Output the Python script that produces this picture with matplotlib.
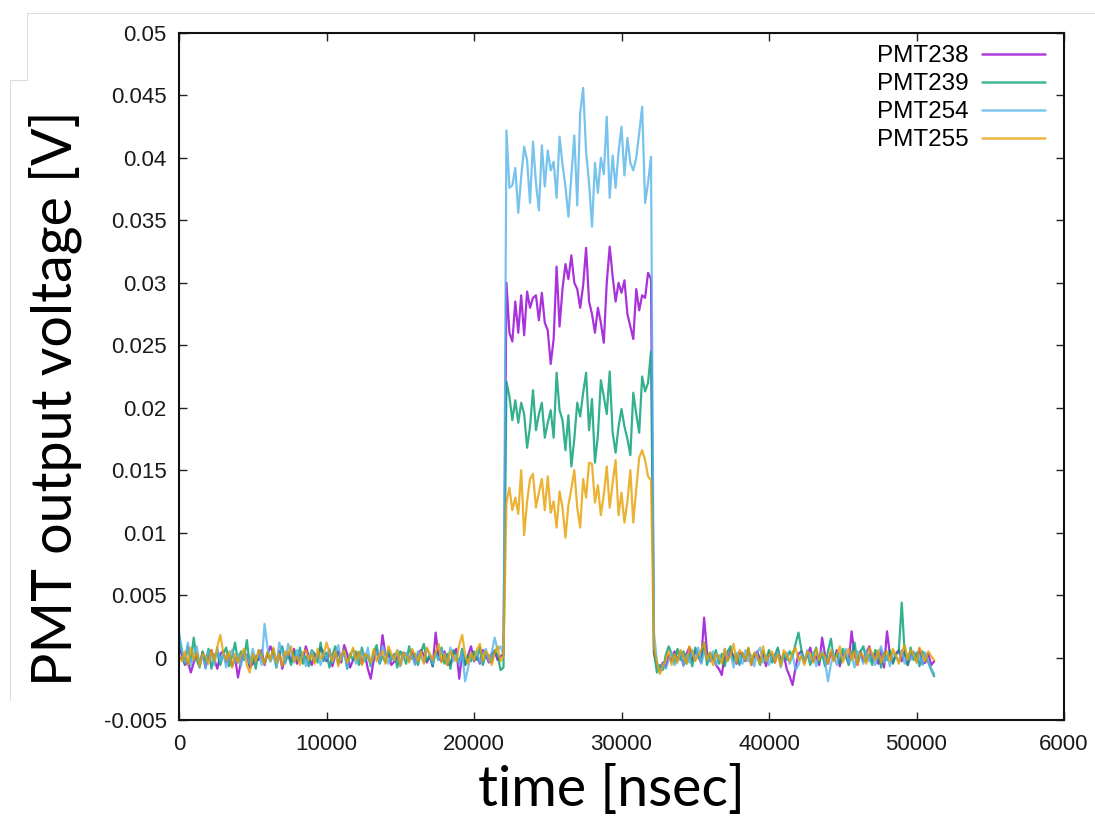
import numpy as np
import matplotlib
matplotlib.use("Agg")
import matplotlib.pyplot as plt
from matplotlib.lines import Line2D

# ---------------- data (values in mV) ----------------
step_ns = 200  # sampling step of the traces
series_names = ["PMT238", "PMT239", "PMT254", "PMT255"]
series_colors = ["#9400D3", "#009E73", "#56B4E9", "#E69F00"]

purple_pre = [0.8, 0.2, -0.6, -0.3, -1.2, -0.4, 0.3, -0.5, 0.4, -0.8,
              0.1, 0.6, -0.2, -0.9, 0.3, 0.5, -0.4, 0.2, -0.7, 0.0,
              -1.6, -0.3, 0.4, 0.2, -0.8, -0.5, 0.1, -0.2, 0.6, -0.6,
              0.3, 0.9, 0.2, -0.4, 0.5, -0.9, 0.0, 0.4, -0.3, 0.7,
              -0.5, 0.2, -0.2, 0.9, 0.1, -0.6, 0.3, -0.1, 0.8, 0.4,
              -0.3, 0.6, -0.7, 0.2, 0.5, -0.4, 1.0, 0.3, -0.8, -0.2,
              0.1, 0.4, -0.5, 0.3, -0.9, -1.7, -0.2, 0.6, -0.4, 1.8,
              0.2, 0.3, -0.6, -0.3, 0.1, -0.6, 0.4, 0.2, -0.2, 0.5,
              -0.5, 0.3, 0.6, 0.2, -0.4, 0.1, -0.7, 2.0, 0.0, -0.3,
              0.5, -0.6, -0.5, 0.3, 0.7, -1.7, 0.4, -0.6, 0.2, 0.9,
              -0.3, 0.1, -0.5, 0.6, 0.2, -0.4, 0.3, 0.5, -0.2, 0.1,
              0.3]
purple_pulse = [30.0, 26.0, 25.3, 28.5, 26.0, 29.0, 25.8, 29.3, 28.0, 28.8,
                29.0, 27.0, 29.2, 26.8, 26.2, 23.5, 25.5, 31.3, 26.5, 29.5,
                31.5, 30.3, 32.2, 30.0, 29.5, 28.0, 29.8, 32.8, 28.5, 27.5,
                26.0, 28.0, 26.8, 25.2, 30.0, 32.9, 30.5, 28.5, 30.0, 29.2,
                30.2, 27.5, 26.5, 25.5, 29.5, 27.8, 29.0, 28.8, 30.8, 30.3]
purple_post = [0.3, -0.5, -1.0, -0.4, -0.8, 0.2, -0.3, 0.5, -0.2, 0.4,
               -0.6, 0.3, 0.8, -0.2, 0.5, 0.1, -0.4, 3.2, 0.4, -0.3,
               0.2, -0.6, -0.9, -1.4, 0.3, -0.2, 0.6, 0.1, -0.5, 0.4,
               0.2, -0.3, 0.7, -0.6, 0.1, 0.5, -0.2, 0.3, -0.7, 0.4,
               0.1, -0.4, 0.6, -0.3, 0.2, -0.9, -1.5, -2.2, -0.8, 0.3,
               0.5, -0.4, 0.2, 0.8, -0.3, 0.1, -0.6, 1.6, 0.2, -0.5,
               0.4, -0.2, 0.6, -0.7, 0.3, 0.1, -0.4, 2.1, 0.2, -0.6,
               0.5, -0.3, 0.4, 0.9, -0.2, 0.3, -0.5, 0.6, -0.8, 2.1,
               0.2, -0.4, 0.3, 0.6, -0.3, 0.5, -0.6, 0.1, 0.4, -0.2,
               0.7, -0.5, -0.4, 0.3, -0.6, -0.3]

green_pre = [1.8, 0.4, -0.5, 0.9, -0.3, 1.6, -0.2, -0.8, 0.5, -0.4,
             0.7, -0.9, 0.2, 0.4, -0.6, 0.3, 0.8, -0.7, 0.1, 1.2,
             -0.4, 0.5, -0.2, 1.4, -0.6, 0.2, -0.9, 0.6, 0.0, -0.5,
             0.4, -0.3, 0.7, -0.8, 0.3, 0.9, -0.4, 0.2, -0.6, 0.5,
             -0.2, 0.8, -0.5, 0.1, -0.7, 0.6, 0.3, -0.4, 1.2, -0.3,
             0.4, -0.8, 0.2, 0.9, -0.5, 0.1, 0.6, -0.9, 0.3, -0.2,
             0.5, -0.6, 0.8, -0.3, 0.2, -0.7, 0.4, 1.0, -0.5, 0.1,
             -0.4, 0.6, -0.2, 0.3, -0.8, 0.5, 0.2, -0.5, 0.9, -0.1,
             0.3, -0.6, 0.4, 1.1, -0.3, 0.2, -0.7, 0.5, -0.2, 0.8,
             -0.5, 0.3, -0.9, 0.6, 0.1, -0.4, 0.7, -0.6, 0.2, -0.3,
             0.5, -0.2, 0.8, -0.6, 0.3, 0.1, -0.4, 0.6, 0.2, -1.0,
             -0.8]
green_pulse = [22.1, 20.9, 19.0, 20.6, 18.8, 20.4, 19.5, 16.8, 18.5, 21.4,
               18.2, 19.5, 20.4, 17.6, 18.8, 19.8, 17.6, 22.8, 19.8, 19.0,
               16.6, 19.4, 15.3, 17.5, 20.4, 19.3, 21.2, 22.8, 18.2, 20.7,
               15.6, 17.8, 22.2, 20.9, 19.5, 22.9, 18.0, 16.4, 18.5, 19.9,
               18.5, 17.5, 16.2, 21.2, 19.5, 18.0, 22.5, 21.3, 22.0, 24.5]
green_post = [0.5, -1.2, -0.6, -1.0, 0.2, 0.9, 0.3, -0.4, 0.7, -0.2,
              0.5, -0.5, 0.3, -0.7, 0.8, 0.2, -0.3, 1.2, -0.6, 0.4,
              -0.2, 0.6, -0.5, 0.3, -0.7, 0.5, 0.9, -0.3, 0.2, -0.6,
              0.4, -0.2, 0.7, -0.5, 0.3, 0.1, -0.6, 0.5, -0.3, 0.6,
              -0.4, 0.2, 0.8, -0.5, 0.3, -0.2, 0.5, 0.1, 1.1, 2.0,
              0.6, -0.3, 0.4, -0.6, 0.2, 0.8, -0.4, 0.3, -0.7, 0.5,
              1.5, -0.2, 0.4, -0.5, 0.7, 0.2, -0.6, 0.3, 1.2, -0.4,
              0.5, 0.9, -0.3, 0.2, -0.6, 0.6, 0.3, -0.8, 0.4, -0.2,
              0.6, -0.5, 0.2, 0.5, 4.4, 0.3, -0.6, 0.8, -0.2, 0.4,
              -0.7, 0.5, 0.1, -0.4, -1.0, -1.5]

blue_pre = [2.0, 0.6, -0.4, 1.2, -0.7, 0.3, 0.9, -0.5, 0.2, -0.9,
            0.5, 0.1, -0.6, 0.8, -0.3, 0.4, -0.8, 0.2, 0.6, -0.4,
            0.3, -0.7, 0.5, 0.1, -0.5, 0.7, -0.2, 0.4, -0.6, 2.7,
            0.8, -0.3, 0.2, -0.8, 1.2, 0.4, -0.5, 1.1, 0.3, -0.4,
            0.6, -0.2, 0.3, -0.7, 0.1, 0.5, -0.3, 0.2, -0.6, 0.4,
            -0.1, 0.7, -0.4, 0.3, 1.0, -0.2, 0.5, -0.8, 0.2, 0.6,
            -0.5, 0.1, 0.4, -0.3, 0.8, -0.6, 0.2, 0.5, -0.4, 0.9,
            0.3, -0.5, 0.2, -0.2, 0.6, -0.7, 0.1, 0.4, -0.3, 0.2,
            -0.6, 0.5, 0.1, -0.4, 0.7, 0.2, -0.5, 0.3, -0.2, 0.6,
            0.1, -0.4, 0.8, -0.3, 0.2, -0.6, 0.4, -1.9, -0.8, 0.3,
            -0.2, 0.5, -0.4, 0.2, 0.7, -0.3, 0.4, 1.6, 0.6, 0.9,
            0.2]
blue_pulse = [42.2, 37.6, 37.8, 39.2, 35.6, 38.5, 40.9, 39.8, 36.4, 41.3,
              38.0, 35.8, 41.0, 37.7, 40.6, 39.0, 39.7, 36.8, 41.7, 39.5,
              37.7, 35.3, 38.5, 41.8, 36.2, 43.6, 45.6, 40.5, 38.0, 34.5,
              39.6, 37.2, 40.0, 38.7, 43.3, 36.8, 40.2, 37.6, 40.5, 42.5,
              38.6, 41.6, 39.6, 39.0, 40.0, 42.0, 44.1, 36.4, 38.0, 40.1]
blue_post = [2.0, -0.3, -1.2, -0.5, -0.9, -0.2, 0.4, -0.6, -0.3, 0.5,
             -0.7, 0.2, -0.4, 0.6, -0.2, 0.8, -0.5, 0.4, 0.1, -0.3,
             0.5, -0.6, 0.2, -0.4, 0.7, -0.2, 0.3, -0.8, 0.4, 0.1,
             -0.5, 0.6, -0.3, 0.2, -0.7, 0.4, 0.8, -0.4, 0.2, -0.6,
             0.3, -0.2, 0.5, -0.8, 0.1, 0.4, -0.5, 0.2, -1.0, -0.6,
             0.3, -0.4, 0.6, -0.2, 0.4, -0.7, 0.2, 0.5, -0.3, -1.9,
             -0.5, 0.3, -0.6, 0.4, -0.2, 0.7, -0.4, 0.2, -0.8, 0.5,
             0.1, -0.5, 0.6, -0.3, 0.3, -0.6, 0.2, 0.9, -0.4, 0.2,
             -0.7, 0.4, 0.1, -0.3, 0.6, -0.5, 0.3, -0.2, 0.5, -0.4,
             0.2, -0.6, 0.4, -0.3, -0.9, -1.3]

orange_pre = [0.2, -0.3, 0.5, -0.6, 0.8, -0.2, 0.4, -0.7, 0.3, 0.1,
              -0.5, 0.6, -0.3, 0.9, 1.8, 0.4, -0.2, 0.5, -0.8, 0.3,
              -0.4, 0.2, 0.7, -0.6, -1.2, 0.3, -0.3, 0.6, 0.1, -0.5,
              0.4, -0.2, 0.8, -0.4, 0.3, -0.7, 0.5, 0.2, 0.9, -0.3,
              0.1, -0.6, 0.4, 0.6, -0.2, 0.3, -0.5, 0.7, -0.1, 0.2,
              1.2, 0.4, -0.3, 0.5, -0.7, 0.2, 0.6, -0.4, 0.1, 0.8,
              -0.2, 0.5, -0.6, 0.3, 0.1, -0.4, 0.7, -0.3, 0.2, 0.5,
              -0.5, 0.9, 0.3, -0.2, 0.6, -0.6, 0.4, 0.1, -0.4, 0.7,
              0.2, -0.3, 0.5, -0.5, 0.8, 0.3, -0.2, 0.4, 1.1, -0.4,
              0.3, -0.6, 0.5, 0.1, -0.3, 1.0, 1.8, 0.2, -0.5, 0.4,
              -0.2, 0.6, 1.1, -0.3, 0.5, 0.2, -0.6, 0.4, 0.9, -0.3,
              0.1]
orange_pulse = [12.4, 13.6, 11.8, 12.8, 11.5, 15.0, 9.8, 12.5, 14.3, 14.7,
                12.0, 13.2, 14.3, 11.8, 14.5, 11.6, 12.5, 10.4, 13.3, 12.0,
                9.6, 12.2, 13.5, 15.0, 12.0, 10.4, 14.3, 12.8, 15.6, 15.5,
                12.4, 13.8, 11.4, 13.0, 15.3, 12.0, 14.0, 15.8, 11.4, 13.2,
                10.8, 12.5, 15.0, 10.8, 13.5, 16.0, 16.6, 15.8, 14.5, 14.2]
orange_post = [0.8, -0.4, -1.3, -0.7, -0.2, 0.5, -0.6, 0.3, -0.4, 0.6,
               0.1, -0.5, 0.9, 0.4, -0.3, 0.2, 0.6, 1.2, -0.2, 0.4,
               -0.6, 0.3, 0.1, -0.5, 0.7, -0.3, 0.2, 1.1, -0.4, 0.6,
               0.3, -0.2, 0.8, -0.6, 0.4, 0.1, -0.5, 0.9, -0.3, 0.2,
               0.5, -0.4, 0.3, -0.7, 0.6, 0.2, -0.3, 0.4, 0.8, -0.2,
               0.1, -0.6, 0.5, 0.3, -0.4, 0.7, -0.2, 0.4, 0.1, -0.5,
               0.6, -0.3, 0.2, 0.9, -0.4, 0.3, 0.7, -0.2, 0.5, -0.6,
               0.4, 0.1, -0.5, 0.8, 0.3, -0.2, 0.6, -0.4, 0.2, 0.5,
               -0.3, 0.7, 0.2, -0.5, 0.4, 1.0, -0.2, 0.6, 0.3, -0.4,
               0.8, 0.2, -0.3, 0.5, 0.1, -0.2]

x_ticks = [0, 10000, 20000, 30000, 40000, 50000, 60000]
x_tick_labels = ["0", "10000", "20000", "30000", "40000", "50000", "6000"]
y_ticks = [-0.005, 0, 0.005, 0.01, 0.015, 0.02, 0.025, 0.03, 0.035, 0.04, 0.045, 0.05]
y_tick_labels = ["-0.005", "0", "0.005", "0.01", "0.015", "0.02", "0.025",
                 "0.03", "0.035", "0.04", "0.045", "0.05"]

traces = [
    purple_pre + purple_pulse + purple_post,
    green_pre + green_pulse + green_post,
    blue_pre + blue_pulse + blue_post,
    orange_pre + orange_pulse + orange_post,
]

# ---------------- figure ----------------
W, H = 1095, 822
fig = plt.figure(figsize=(W / 100, H / 100), dpi=100)
fig.patch.set_facecolor("white")

ax = fig.add_axes([179 / W, 1 - 720 / H, (1064 - 179) / W, (720 - 33) / H])

for name, col, tr in zip(series_names, series_colors, traces):
    v = np.array(tr) / 1000.0
    t = np.arange(len(v)) * step_ns
    ax.plot(t, v, color=col, lw=1.6, label=name, alpha=0.8,
            solid_joinstyle="round", solid_capstyle="round")

ax.set_xlim(0, 60000)
ax.set_ylim(-0.005, 0.05)
ax.set_xticks(x_ticks)
ax.set_xticklabels(x_tick_labels)
ax.set_yticks(y_ticks)
ax.set_yticklabels(y_tick_labels)

tick_font = "Liberation Sans"
for lab in ax.get_xticklabels() + ax.get_yticklabels():
    lab.set_fontfamily(tick_font)
    lab.set_fontsize(16)
    lab.set_color("#1a1a1a")

ax.tick_params(direction="in", length=6, width=1.0, top=True, right=True,
               colors="#222222", labelcolor="#1a1a1a")
ax.tick_params(axis="y", pad=9)
ax.tick_params(axis="x", pad=10)
for sp in ax.spines.values():
    sp.set_linewidth(1.5)
    sp.set_color("#111111")

leg = ax.legend(loc="upper right", frameon=False, markerfirst=False,
                handlelength=2.6, handletextpad=0.55, labelspacing=0.25,
                borderaxespad=0.1, bbox_to_anchor=(0.992, 1.0),
                prop={"family": tick_font, "size": 17.5})
for h in leg.get_lines():
    h.set_linewidth(1.8)
    h.set_alpha(0.75)

# axis labels (placed as in the reference)
label_font = ["Lato", "DejaVu Sans"]
fig.text(611 / W, 1 - 790 / H, "time [nsec]", ha="center", va="center",
         fontsize=40, family=label_font, color="black")
fig.text(55 / W, 1 - 398 / H, "PMT output voltage [V]", ha="center", va="center",
         rotation=90, fontsize=40, family=label_font, color="black")

# faint screenshot border lines
border_col = "#dddddd"
fig.add_artist(Line2D([27 / W, 1.0], [1 - 13 / H, 1 - 13 / H], color=border_col, lw=0.8))
fig.add_artist(Line2D([27 / W, 27 / W], [1 - 13 / H, 1 - 80 / H], color=border_col, lw=0.8))
fig.add_artist(Line2D([10 / W, 27 / W], [1 - 80 / H, 1 - 80 / H], color=border_col, lw=0.8))
fig.add_artist(Line2D([10 / W, 10 / W], [1 - 80 / H, 1 - 700 / H], color=border_col, lw=0.8))

fig.savefig("out.png", dpi=100, facecolor="white")
